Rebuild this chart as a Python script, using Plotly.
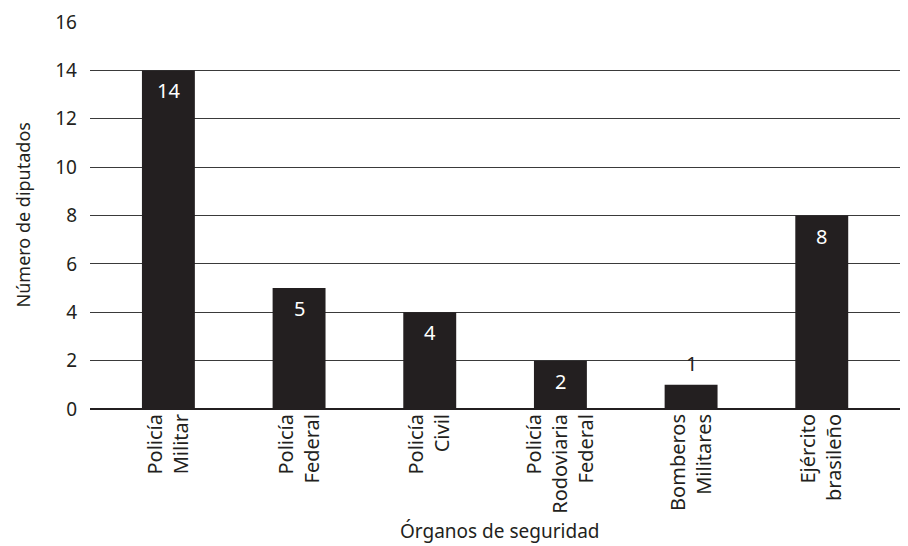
import plotly.graph_objects as go

categories = ["Policía<br>Militar", "Policía<br>Federal", "Policía<br>Civil",
              "Policía<br>Rodoviaria<br>Federal", "Bomberos<br>Militares", "Ejército<br>brasileño"]
values = [14, 5, 4, 2, 1, 8]
y_ticks = [0, 2, 4, 6, 8, 10, 12, 14, 16]

FONT = "Noto Sans"
DARK = "#231f20"

xs = list(range(len(categories)))

fig = go.Figure(go.Bar(
    x=xs,
    y=values,
    marker=dict(color=DARK, line=dict(width=0)),
    width=0.405,
    hoverinfo="skip",
))

for xi, v in zip(xs, values):
    inside = v > 1
    fig.add_annotation(
        x=xi, y=v, xref="x", yref="y", text=str(v), showarrow=False,
        yanchor="top" if inside else "bottom",
        yshift=-5 if inside else 6,
        font=dict(family=FONT, size=20, color="white" if inside else DARK),
    )

# page body has an 8px margin, so the figure is 8px smaller than the window
fig.update_layout(
    width=900, height=538,
    margin=dict(l=82, r=0, t=14, b=137),
    plot_bgcolor="white", paper_bgcolor="white",
    showlegend=False,
    font=dict(family=FONT, size=18, color=DARK),
)
fig.update_xaxes(
    tickmode="array", tickvals=xs, ticktext=categories,
    tickangle=-90, range=[-0.6, 5.66], showgrid=False, showline=False, zeroline=False,
    ticks="", ticklabelstandoff=0, tickfont=dict(family=FONT, size=20, color=DARK),
    title=None,
)
fig.update_yaxes(
    range=[0, 16], tickvals=y_ticks, showgrid=True, gridcolor="#3a3a3a", gridwidth=1,
    zeroline=True, zerolinecolor="#231f20", zerolinewidth=1.5, showline=False,
    ticks="", ticklabelstandoff=12, tickfont=dict(family=FONT, size=19, color=DARK),
    title=None,
)
fig.add_annotation(text="Número de diputados", xref="paper", yref="paper",
                   x=(22 - 90) / 818, y=0.5, xanchor="center", yanchor="middle",
                   textangle=-90, showarrow=False,
                   font=dict(family=FONT, size=18, color=DARK))
fig.add_annotation(text="Órganos de seguridad", xref="paper", yref="paper",
                   x=0.5, y=-(531 - 409) / 387, xanchor="center", yanchor="middle",
                   showarrow=False, font=dict(family=FONT, size=19, color=DARK))

fig.write_html("out.html")
